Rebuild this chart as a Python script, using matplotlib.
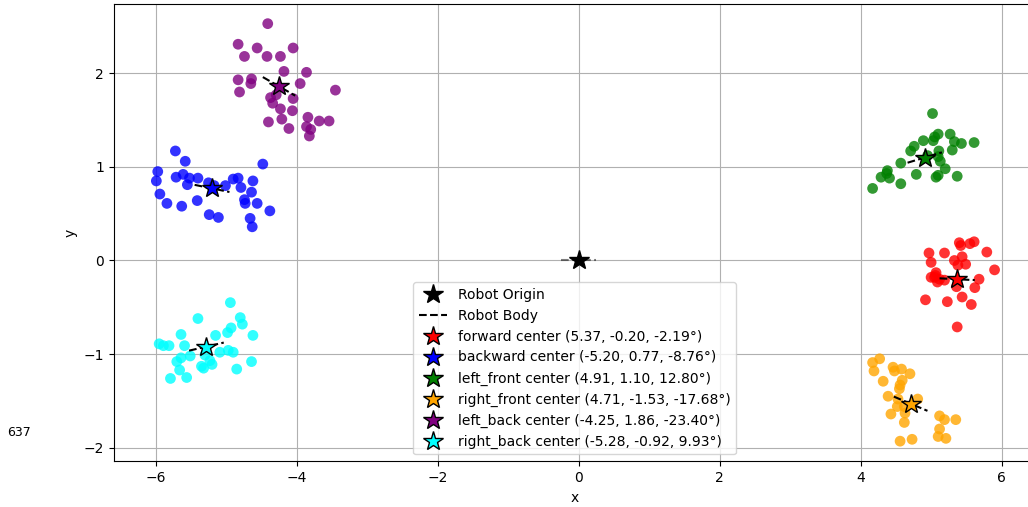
import numpy as np
import matplotlib
matplotlib.use("Agg")
import matplotlib.pyplot as plt

# ---- data ----
forward_x = [5.40, 5.42, 5.55, 5.61, 4.97, 5.19, 5.79, 5.44, 5.33, 5.00, 5.49, 5.38, 5.90,
             5.07, 5.05, 5.12, 5.09, 5.19, 5.68, 5.36, 5.62, 4.92, 5.23, 5.44, 5.57, 5.37, 5.00, 5.06]
forward_y = [0.19, 0.16, 0.18, 0.20, 0.08, 0.08, 0.09, 0.04, 0.00, -0.02, -0.04, -0.05, -0.10,
             -0.13, -0.18, -0.20, -0.23, -0.21, -0.20, -0.28, -0.29, -0.42, -0.44, -0.39, -0.47, -0.71, -0.18, -0.16]

backward_x = [-5.72, -5.58, -4.48, -5.97, -5.99, -5.94, -5.84, -5.71, -5.61, -5.52, -5.55, -5.40,
              -5.63, -5.41, -5.24, -5.11, -5.01, -4.90, -4.83, -4.79, -4.62, -4.64, -4.74, -4.73,
              -4.56, -4.38, -4.66, -4.63, -5.25, -5.17]
backward_y = [1.17, 1.06, 1.03, 0.95, 0.85, 0.71, 0.61, 0.89, 0.92, 0.88, 0.81, 0.88,
              0.58, 0.64, 0.49, 0.46, 0.80, 0.87, 0.88, 0.78, 0.85, 0.73, 0.65, 0.61,
              0.61, 0.53, 0.45, 0.36, 0.83, 0.80]

left_front_x = [5.02, 5.10, 5.05, 5.27, 5.61, 4.89, 5.03, 5.33, 5.43, 4.76, 4.71, 5.30, 5.11,
                5.10, 5.13, 4.57, 5.20, 4.38, 4.37, 4.79, 5.37, 5.10, 5.07, 4.29, 4.41, 4.57, 4.17, 4.95]
left_front_y = [1.57, 1.35, 1.32, 1.35, 1.26, 1.28, 1.28, 1.27, 1.25, 1.22, 1.17, 1.18, 1.17,
                1.11, 1.06, 1.04, 0.98, 0.96, 0.93, 0.92, 0.90, 0.91, 0.89, 0.89, 0.88, 0.82, 0.77, 1.12]

right_front_x = [4.17, 4.27, 4.19, 4.46, 4.48, 4.58, 4.70, 4.32, 4.59, 4.56, 4.55, 4.39, 4.53,
                 4.81, 4.52, 4.63, 4.43, 4.62, 5.12, 5.19, 5.35, 5.12, 5.10, 5.21, 4.56, 4.73, 4.62]
right_front_y = [-1.09, -1.05, -1.18, -1.14, -1.18, -1.16, -1.21, -1.29, -1.28, -1.33, -1.37, -1.45, -1.48,
                 -1.48, -1.56, -1.63, -1.64, -1.73, -1.66, -1.70, -1.70, -1.80, -1.88, -1.90, -1.93, -1.91, -1.56]

left_back_x = [-4.41, -4.83, -4.56, -4.05, -4.74, -4.42, -4.23, -4.18, -3.86, -4.83, -4.64, -4.65,
               -4.81, -3.95, -3.45, -4.37, -4.29, -4.34, -4.05, -4.23, -4.06, -4.40, -4.21, -4.11,
               -3.84, -3.68, -3.54, -3.86, -3.80, -3.82]
left_back_y = [2.53, 2.31, 2.27, 2.27, 2.18, 2.18, 2.18, 2.02, 2.01, 1.93, 1.94, 1.89,
               1.80, 1.89, 1.82, 1.74, 1.77, 1.68, 1.73, 1.62, 1.60, 1.48, 1.51, 1.41,
               1.53, 1.49, 1.49, 1.43, 1.40, 1.33]

right_back_x = [-4.94, -5.40, -4.80, -4.77, -4.93, -4.98, -5.64, -4.62, -5.15, -5.95, -5.89, -5.81,
                -5.59, -5.09, -4.97, -4.90, -5.51, -5.64, -5.70, -5.30, -5.23, -5.35, -5.32, -5.20,
                -4.64, -4.85, -5.66, -5.79, -5.56]
right_back_y = [-0.45, -0.62, -0.61, -0.68, -0.72, -0.77, -0.79, -0.80, -0.80, -0.89, -0.91, -0.91,
                -0.91, -0.98, -0.96, -0.98, -1.02, -1.04, -1.08, -1.01, -1.07, -1.13, -1.15, -1.11,
                -1.08, -1.16, -1.17, -1.26, -1.25]

group_names = ["forward", "backward", "left_front", "right_front", "left_back", "right_back"]
group_colors = ["red", "blue", "green", "orange", "purple", "cyan"]
center_x = [5.37, -5.20, 4.91, 4.71, -4.25, -5.28]
center_y = [-0.20, 0.77, 1.10, -1.53, 1.86, -0.92]
center_deg = [-2.19, -8.76, 12.80, -17.68, -23.40, 9.93]
points_x = [forward_x, backward_x, left_front_x, right_front_x, left_back_x, right_back_x]
points_y = [forward_y, backward_y, left_front_y, right_front_y, left_back_y, right_back_y]

body_half = 0.25

fig = plt.figure(figsize=(10.28, 5.07), dpi=100)
left_px, right_px = 113.7, 1036.0
ax = fig.add_axes([left_px / 1028, 1 - 461.3 / 507, (right_px - left_px) / 1028, (461.3 - 4) / 507])

for px, py, c in zip(points_x, points_y, group_colors):
    ax.scatter(px, py, color=c, s=60, alpha=0.8, edgecolors='none', zorder=2)

# robot origin
ax.plot([-body_half, body_half], [0, 0], 'k--', alpha=0.5, zorder=3)
ax.plot(0, 0, marker='*', color='black', markersize=15, linestyle='none',
        label='Robot Origin', zorder=5)
ax.plot([], [], 'k--', label='Robot Body')

for name, c, cx, cy, d in zip(group_names, group_colors, center_x, center_y, center_deg):
    th = np.deg2rad(d)
    dx, dy = body_half * np.cos(th), body_half * np.sin(th)
    ax.plot([cx - dx, cx + dx], [cy - dy, cy + dy], 'k--', zorder=4)
    ax.plot(cx, cy, marker='*', color=c, markeredgecolor='black', markersize=15,
            linestyle='none', zorder=5,
            label=f"{name} center ({cx:.2f}, {cy:.2f}, {d:.2f}\u00b0)")

ax.set_xlim(-6.595, (right_px - 578.8) / 70.47)
ax.set_ylim(-2.145, 2.74)
ax.set_xlabel('x')
ax.set_ylabel('y')
ax.grid(True)
ax.legend(loc='lower center')

fig.text(7 / 1028, 1 - 432 / 507, '637', va='center', ha='left', fontsize=9)

fig.savefig('out.png', dpi=100)
